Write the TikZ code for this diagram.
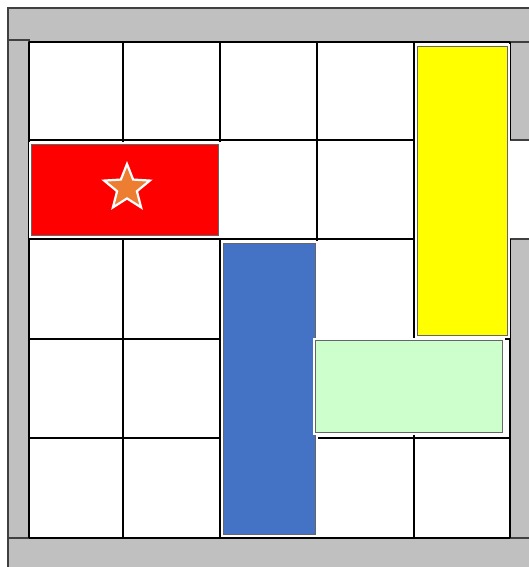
\documentclass[tikz,border=0pt]{standalone}
\usetikzlibrary{shapes.geometric}
\definecolor{wallgray}{HTML}{C0C0C0}
\definecolor{carred}{HTML}{FF0000}
\definecolor{caryellow}{HTML}{FFFF00}
\definecolor{carblue}{HTML}{4472C4}
\definecolor{cargreen}{HTML}{CCFFCC}
\definecolor{starorange}{HTML}{ED7D31}
\begin{document}
\begin{tikzpicture}[x=0.5pt,y=-0.5pt,
    wall/.style={fill=wallgray,draw=black!75,line width=0.6pt},
    gridline/.style={black,line width=1.2pt},
    car/.style={fill=#1,draw=black!60,line width=0.5pt,preaction={draw=white,line width=2.5pt}}]
    \useasboundingbox (0,0) rectangle (529,567);
    % walls
    \draw[wall] (8,8) rectangle (540,42);
    \draw[wall] (8,40) rectangle (29,538);
    \draw[wall] (8,538) rectangle (540,580);
    \draw[wall] (510,42) rectangle (540,140);
    \draw[wall] (510,239) rectangle (540,538);
    % board
    \fill[white] (29,42) rectangle (510,538);
    \foreach \x in {29,123,220,317,414} \draw[gridline] (\x,42) -- (\x,538);
    \foreach \y in {42,140,239,339,438,538} \draw[gridline] (29,\y) -- (510,\y);
    \draw[gridline] (510,42) -- (510,140); \draw[gridline] (510,239) -- (510,538);
    % cars
    \draw[car=carred] (31,144) rectangle (218,235);
    \draw[car=caryellow] (417,47) rectangle (507,335);
    \draw[car=carblue] (223,243) rectangle (315,534);
    \draw[car=cargreen] (315,340) rectangle (502,432);
    \node[star,star points=5,star point ratio=2.3,minimum size=24pt,inner sep=0pt,
      fill=starorange,draw=white,line width=1.1pt] (goal) at (127,188) {};
\end{tikzpicture}
\end{document}
